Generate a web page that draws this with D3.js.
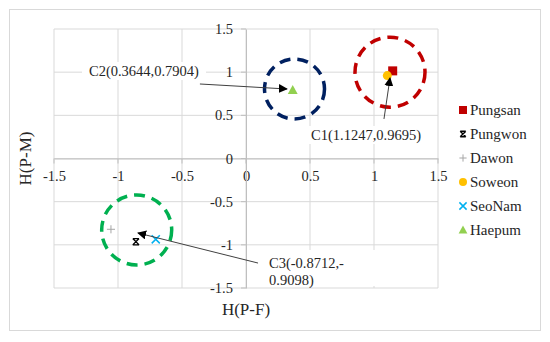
<!DOCTYPE html>
<html>
<head>
<meta charset="utf-8">
<script src="https://cdnjs.cloudflare.com/ajax/libs/d3/7.8.5/d3.min.js"></script>
<style>
  body { margin: 0; background: #fff; }
  svg text { font-family: "Liberation Serif", "Times New Roman", serif !important; }
</style>
</head>
<body>
<div id="chart"></div>
<script>
// cultivars and their (H(P-F), H(P-M)) coordinates
const names = ["Pungsan", "Pungwon", "Dawon", "Soweon", "SeoNam", "Haepum"];
const xVals = [1.146, -0.86, -1.055, 1.104, -0.705, 0.365];
const yVals = [1.015, -0.964, -0.82, 0.96, -0.936, 0.794];
const colors = ["#c00000", "#000000", "#a6a6a6", "#ffc000", "#00b0f0", "#92d050"];

// tick values
const ticks = [-1.5, -1, -0.5, 0, 0.5, 1, 1.5];

// cluster rings (centre)
const ringX = [1.125, 0.379, -0.854];
const ringY = [1.0, 0.805, -0.828];
const ringColors = ["#c00000", "#002060", "#00b050"];

// annotations: label, arrow start, arrow end
const labels = [["C1(1.1247,0.9695)"], ["C2(0.3644,0.7904)"], ["C3(-0.8712,-", "0.9098)"]];
const labelX = [0.9375, -0.797, 0.18];
const labelY = [0.272, 1.014, -1.21];
const arrowFrom = [[1.078, 0.458], [-0.36, 0.863], [0.094, -1.211]];
const arrowTo = [[1.125, 0.933], [0.32, 0.805], [-0.844, -0.863]];

const serif = "'Liberation Serif', 'Times New Roman', serif";
const W = 550, H = 342;
const svg = d3.select("#chart").append("svg")
    .attr("width", W)
    .attr("height", H)
    .attr("font-family", serif);

// outer frame
svg.append("rect")
    .attr("x", 9.5).attr("y", 9.5)
    .attr("width", 531).attr("height", 321)
    .attr("fill", "#fff")
    .attr("stroke", "#d9d9d9");

const x = d3.scaleLinear().domain([-1.5, 1.5]).range([54, 438]);
const y = d3.scaleLinear().domain([-1.5, 1.5]).range([288, 29]);

// gridlines
svg.append("g").selectAll("line.vx")
    .data(ticks).enter().append("line")
    .attr("x1", d => x(d)).attr("x2", d => x(d))
    .attr("y1", y(1.5)).attr("y2", y(-1.5))
    .attr("stroke", "#d9d9d9").attr("stroke-width", 1);

svg.append("g").selectAll("line.hy")
    .data(ticks).enter().append("line")
    .attr("y1", d => y(d)).attr("y2", d => y(d))
    .attr("x1", x(-1.5)).attr("x2", x(1.5))
    .attr("stroke", "#d9d9d9").attr("stroke-width", 1);

// axes through zero
const fmt = d => String(d);
const xAxis = svg.append("g")
    .attr("transform", "translate(0," + y(0) + ")")
    .call(d3.axisBottom(x).tickValues(ticks).tickSize(0).tickPadding(12).tickFormat(fmt));
const yAxis = svg.append("g")
    .attr("transform", "translate(" + x(0) + ",0)")
    .call(d3.axisLeft(y).tickValues(ticks).tickSize(0).tickPadding(13).tickFormat(fmt));

[xAxis, yAxis].forEach(a => {
    a.attr("font-family", serif).attr("font-size", 14.5);
    a.select(".domain").attr("stroke", "#bfbfbf");
    a.selectAll("text")
        .attr("font-family", serif)
        .attr("fill", "#262626");
});

// small tick marks on the axes
svg.append("g").selectAll("line")
    .data(ticks).enter().append("line")
    .attr("x1", d => x(d)).attr("x2", d => x(d))
    .attr("y1", y(0)).attr("y2", y(0) + 5)
    .attr("stroke", "#bfbfbf");
svg.append("g").selectAll("line")
    .data(ticks).enter().append("line")
    .attr("y1", d => y(d)).attr("y2", d => y(d))
    .attr("x1", x(0) - 5).attr("x2", x(0))
    .attr("stroke", "#bfbfbf");

// axis titles
svg.append("text")
    .attr("x", x(0)).attr("y", 315)
    .attr("text-anchor", "middle")
    .attr("font-size", 17)
    .attr("fill", "#262626")
    .text("H(P-F)");

svg.append("text")
    .attr("transform", "translate(31," + y(0) + ") rotate(-90)")
    .attr("text-anchor", "middle")
    .attr("font-size", 17)
    .attr("fill", "#262626")
    .text("H(P-M)");

// dashed cluster rings
svg.append("g").selectAll("circle")
    .data(ringX).enter().append("circle")
    .attr("cx", d => x(d))
    .attr("cy", (d, i) => y(ringY[i]))
    .attr("r", (d, i) => i === 1 ? 30 : 35)
    .attr("fill", "none")
    .attr("stroke", (d, i) => ringColors[i])
    .attr("stroke-width", 3.5)
    .attr("stroke-dasharray", "11,7");

// marker shapes
function marker(g, i, s) {
    const c = colors[i];
    if (i === 0) {
        g.append("rect").attr("x", -s / 2).attr("y", -s / 2).attr("width", s).attr("height", s).attr("fill", c);
    } else if (i === 1) {
        const h = s * 0.35;
        g.append("path").attr("d", `M${-h},${-h}L${h},${h}M${h},${-h}L${-h},${h}M${-h},${-h}H${h}M${-h},${h}H${h}`)
            .attr("stroke", c).attr("stroke-width", 1.4).attr("fill", "none");
    } else if (i === 2) {
        const h = s * 0.45;
        g.append("path").attr("d", `M${-h},0H${h}M0,${-h}V${h}`)
            .attr("stroke", c).attr("stroke-width", 1).attr("fill", "none");
    } else if (i === 3) {
        g.append("circle").attr("r", s / 2).attr("fill", c);
    } else if (i === 4) {
        const h = s * 0.45;
        g.append("path").attr("d", `M${-h},${-h}L${h},${h}M${h},${-h}L${-h},${h}`)
            .attr("stroke", c).attr("stroke-width", 1.5).attr("fill", "none");
    } else {
        const h = s * 0.55;
        g.append("path").attr("d", `M0,${-h}L${h},${h * 0.8}L${-h},${h * 0.8}Z`).attr("fill", c);
    }
}

// points
names.forEach((n, i) => {
    const g = svg.append("g").attr("transform", `translate(${x(xVals[i])},${y(yVals[i])})`);
    marker(g, i, 9);
});

// arrows
const defs = svg.append("defs");
defs.append("marker")
    .attr("id", "arrow")
    .attr("viewBox", "0 0 10 10")
    .attr("refX", 9).attr("refY", 5)
    .attr("markerWidth", 9).attr("markerHeight", 9)
    .attr("markerUnits", "userSpaceOnUse")
    .attr("orient", "auto")
    .append("path")
    .attr("d", "M0,0L10,5L0,10Z")
    .attr("fill", "#000");

svg.append("g").selectAll("line")
    .data(arrowFrom).enter().append("line")
    .attr("x1", d => x(d[0])).attr("y1", d => y(d[1]))
    .attr("x2", (d, i) => x(arrowTo[i][0])).attr("y2", (d, i) => y(arrowTo[i][1]))
    .attr("stroke", "#404040")
    .attr("stroke-width", 1)
    .attr("marker-end", "url(#arrow)");

// annotation labels with white boxes
const boxW = [120, 124, 116];
labels.forEach((lines, i) => {
    const cx = x(labelX[i]), cy = y(labelY[i]);
    const g = svg.append("g");
    if (i < 2) {
        g.append("rect").attr("x", cx - boxW[i] / 2).attr("y", cy - 9)
            .attr("width", boxW[i]).attr("height", 18).attr("fill", "#fff");
        g.append("text").attr("x", cx).attr("y", cy + 5)
            .attr("text-anchor", "middle")
            .attr("font-size", 14.5).attr("fill", "#262626")
            .text(lines[0]);
    } else {
        g.append("rect").attr("x", cx - 5).attr("y", cy - 13)
            .attr("width", boxW[i]).attr("height", 36).attr("fill", "#fff");
        lines.forEach((t, k) => {
            g.append("text").attr("x", cx).attr("y", cy + 5 + k * 17)
                .attr("font-size", 14.5).attr("fill", "#262626")
                .text(t);
        });
    }
});

// legend
const legend = svg.append("g").attr("transform", "translate(463,110)");
names.forEach((n, i) => {
    const row = legend.append("g").attr("transform", `translate(0,${i * 24})`);
    marker(row, i, 8);
    row.append("text").attr("x", 7).attr("y", 5)
        .attr("font-size", 15).attr("fill", "#262626")
        .text(n);
});
</script>
</body>
</html>
